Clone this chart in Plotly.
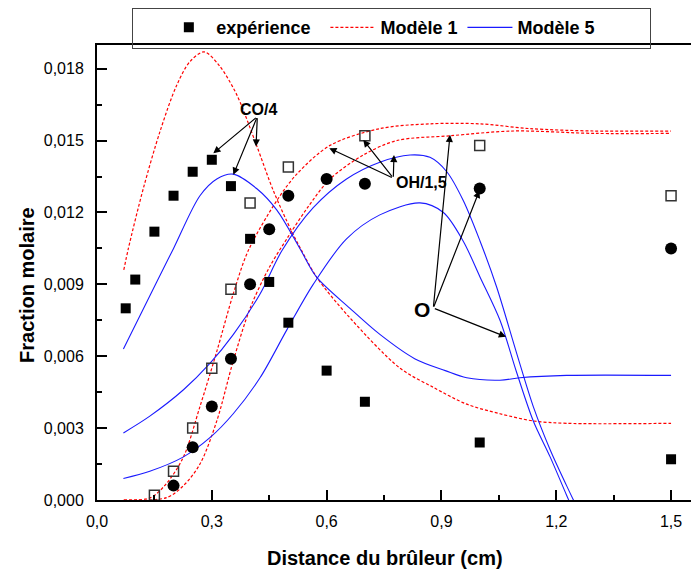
import plotly.graph_objects as go

# ---------------- experimental data ----------------
co_x = [0.075, 0.1, 0.15, 0.2, 0.25, 0.3, 0.35, 0.4, 0.45, 0.5, 0.6, 0.7, 1.0, 1.5]
co_y = [0.0080, 0.0092, 0.0112, 0.0127, 0.0137, 0.0142, 0.0131, 0.0109, 0.0091, 0.0074, 0.0054, 0.0041, 0.0024, 0.0017]

oh_x = [0.15, 0.2, 0.25, 0.3, 0.35, 0.4, 0.5, 0.7, 1.0, 1.5]
oh_y = [0.0002, 0.0012, 0.0030, 0.0055, 0.0088, 0.0124, 0.0139, 0.0152, 0.0148, 0.0127]

o_x = [0.2, 0.25, 0.3, 0.35, 0.4, 0.45, 0.5, 0.6, 0.7, 1.0, 1.5]
o_y = [0.0006, 0.0022, 0.0039, 0.0059, 0.0090, 0.0113, 0.0127, 0.0134, 0.0132, 0.0130, 0.0105]

# ---------------- Modèle 1 (red dashed) ----------------
m1_co_x = [0.07, 0.082, 0.121, 0.165, 0.208, 0.243, 0.28, 0.321, 0.356, 0.374, 0.417, 0.461, 0.509, 0.535,
           0.574, 0.661, 0.792, 0.879, 0.966, 1.053, 1.14, 1.227, 1.5]
m1_co_y = [0.0096, 0.0105, 0.0130, 0.0154, 0.0173, 0.0183, 0.0187, 0.0181, 0.0172, 0.0166, 0.0148, 0.0129,
           0.0112, 0.0104, 0.0093, 0.0076, 0.0055, 0.0047, 0.0040, 0.0036, 0.0033, 0.0032, 0.0032]

m1_oh_x = [0.07, 0.14, 0.182, 0.226, 0.269, 0.313, 0.356, 0.395, 0.47, 0.522, 0.609, 0.739, 0.87, 1.0,
           1.131, 1.3, 1.5]
m1_oh_y = [0.0000, 0.0001, 0.0007, 0.0018, 0.0039, 0.0062, 0.0086, 0.0104, 0.0125, 0.0136, 0.0148, 0.0155,
           0.0157, 0.0157, 0.0155, 0.0154, 0.0154]

m1_o_x = [0.07, 0.182, 0.226, 0.269, 0.313, 0.356, 0.40, 0.45, 0.50, 0.55, 0.609, 0.696, 0.783, 0.922,
          1.088, 1.3, 1.5]
m1_o_y = [0.0000, 0.0001, 0.0006, 0.0015, 0.0033, 0.0058, 0.0080, 0.0097, 0.0110, 0.0122, 0.0134, 0.0144,
          0.0150, 0.0152, 0.0154, 0.0153, 0.0153]

# ---------------- Modèle 5 (blue solid) ----------------
m5_co_x = [0.069, 0.156, 0.2, 0.269, 0.313, 0.356, 0.417, 0.47, 0.53, 0.574, 0.661, 0.74, 0.83, 0.91, 0.966,
           1.053, 1.105, 1.227, 1.5]
m5_co_y = [0.0063, 0.0091, 0.0105, 0.0127, 0.0134, 0.0136, 0.0130, 0.0121, 0.0105, 0.0093, 0.0080, 0.0069,
           0.0059, 0.0054, 0.0051, 0.0050, 0.0051, 0.0052, 0.0052]

m5_oh_x = [0.069, 0.138, 0.226, 0.295, 0.356, 0.426, 0.483, 0.565, 0.652, 0.739, 0.818, 0.87, 0.914, 0.957,
           1.001, 1.044, 1.097, 1.14, 1.184, 1.227, 1.26]
m5_oh_y = [0.0028, 0.0035, 0.0046, 0.0057, 0.0069, 0.0086, 0.0104, 0.0122, 0.0134, 0.0141, 0.0144, 0.0143,
           0.0137, 0.0125, 0.0108, 0.0089, 0.0061, 0.0039, 0.0021, 0.0006, -0.0005]

m5_o_x = [0.069, 0.138, 0.226, 0.295, 0.356, 0.426, 0.496, 0.565, 0.652, 0.739, 0.844, 0.905, 0.957, 1.001,
          1.053, 1.097, 1.14, 1.184, 1.227, 1.26]
m5_o_y = [0.0009, 0.0012, 0.0018, 0.0026, 0.0036, 0.0051, 0.0071, 0.0090, 0.0109, 0.0119, 0.0124, 0.0120,
          0.0108, 0.0093, 0.0075, 0.0053, 0.0033, 0.0018, 0.0002, -0.0010]

FONT = "Liberation Sans, Arial, sans-serif"
RED = "#ff0000"
BLUE = "#1a1aff"
NB = "\u00a0"

# page offset (body margin of the html page)
OFF = 8
W, H = 699 - OFF, 572 - OFF
L, R, T, B = 97 - OFF, 0, 43 - OFF, 72
pw, ph = W - L - R, H - T - B


def paper_x(px):
    return (px - OFF - L) / pw


def paper_y(py):
    return (H - B - (py - OFF)) / ph


fig = go.Figure()


def add_line(x, y, color, dash, name):
    fig.add_trace(go.Scatter(x=x, y=y, mode="lines", name=name, legendgroup=name, showlegend=False,
                             line=dict(color=color, width=1.2 if dash else 1.1, dash=dash,
                                       shape="spline", smoothing=0.9)))


add_line(m1_co_x, m1_co_y, RED, "3px,2px", "Modèle 1")
add_line(m1_oh_x, m1_oh_y, RED, "3px,2px", "Modèle 1")
add_line(m1_o_x, m1_o_y, RED, "3px,2px", "Modèle 1")
add_line(m5_co_x, m5_co_y, BLUE, None, "Modèle 5")
add_line(m5_oh_x, m5_oh_y, BLUE, None, "Modèle 5")
add_line(m5_o_x, m5_o_y, BLUE, None, "Modèle 5")

# experimental points
fig.add_trace(go.Scatter(x=co_x, y=co_y, mode="markers", name="expérience" + NB * 2, showlegend=True,
                         marker=dict(symbol="square", size=10, color="black")))
fig.add_trace(go.Scatter(x=oh_x, y=oh_y, mode="markers", name="OH", showlegend=False,
                         marker=dict(symbol="square-open", size=10, color="#333333", line=dict(width=1.5))))
fig.add_trace(go.Scatter(x=o_x, y=o_y, mode="markers", name="O", showlegend=False,
                         marker=dict(symbol="circle", size=12, color="black")))

# legend-only entries for the models
fig.add_trace(go.Scatter(x=[None], y=[None], mode="lines", name="Modèle 1", legendgroup="Modèle 1",
                         line=dict(color=RED, width=1.2, dash="3px,2px")))
fig.add_trace(go.Scatter(x=[None], y=[None], mode="lines", name="Modèle 5" + NB * 10, legendgroup="Modèle 5",
                         line=dict(color=BLUE, width=1.1)))

annotations = []
# text labels
annotations.append(dict(x=0.4207, y=0.0163, xref="x", yref="y", text="<b>CO/4</b>", showarrow=False,
                        font=dict(family=FONT, size=16, color="black")))
annotations.append(dict(x=0.8466, y=0.01325, xref="x", yref="y", text="<b>OH/1,5</b>", showarrow=False,
                        font=dict(family=FONT, size=16, color="black")))
annotations.append(dict(x=0.8484, y=0.00797, xref="x", yref="y", text="<b>O</b>", showarrow=False,
                        font=dict(family=FONT, size=21, color="black")))

# arrows (tail -> tip)
arrow_tails = [(0.4189, 0.0160)] * 3 + [(0.7742, 0.01343)] * 3 + [(0.8788, 0.00801)] * 3
arrow_tips = [(0.3039, 0.01447), (0.3562, 0.01357), (0.4155, 0.01475),
              (0.607, 0.01468), (0.6958, 0.01503), (0.776, 0.0144),
              (0.9224, 0.01524), (0.999, 0.01291), (1.0687, 0.00681)]
for (tx, ty), (hx, hy) in zip(arrow_tails, arrow_tips):
    annotations.append(dict(x=hx, y=hy, ax=tx, ay=ty, xref="x", yref="y", axref="x", ayref="y",
                            text="", showarrow=True, arrowhead=2, arrowsize=1.2, arrowwidth=1.2,
                            arrowcolor="black", standoff=0, startstandoff=0))

# axis titles
annotations.append(dict(x=paper_x(385), y=paper_y(558), xref="paper", yref="paper",
                        xanchor="center", yanchor="middle", text="<b>Distance du brûleur (cm)</b>",
                        showarrow=False, font=dict(family=FONT, size=20, color="black")))
annotations.append(dict(x=paper_x(27), y=paper_y(284), xref="paper", yref="paper",
                        xanchor="center", yanchor="middle", text="<b>Fraction molaire</b>",
                        textangle=-90, showarrow=False, font=dict(family=FONT, size=20, color="black")))

fig.update_layout(
    width=W, height=H,
    margin=dict(l=L, r=R, t=T, b=B),
    plot_bgcolor="white", paper_bgcolor="white",
    separators=", ",
    font=dict(family=FONT, size=16, color="black"),
    annotations=annotations,
    legend=dict(orientation="h", x=paper_x(132), y=paper_y(6), xanchor="left", yanchor="top",
                bordercolor="#444444", borderwidth=1, bgcolor="rgba(0,0,0,0)",
                font=dict(family=FONT, size=18, color="black", weight="bold"),
                title=dict(text=NB * 3, side="left"),
                traceorder="normal", itemwidth=45),
    xaxis=dict(range=[0, 1.573], dtick=0.3, tick0=0, tickformat=".1f", ticks="inside", ticklen=10,
               tickwidth=1.5, tickcolor="black", showline=True, linecolor="black", linewidth=2,
               mirror=True, showgrid=False, zeroline=False, ticklabelstandoff=6, automargin=False,
               tickfont=dict(family=FONT, size=16, color="black"),
               minor=dict(dtick=0.15, tick0=0, ticks="inside", ticklen=5, tickwidth=1.5, tickcolor="black")),
    yaxis=dict(range=[0, 0.01899], dtick=0.003, tick0=0, tickformat=".3f", ticks="inside", ticklen=10,
               tickwidth=1.5, tickcolor="black", showline=True, linecolor="black", linewidth=2,
               mirror=False, showgrid=False, zeroline=False, ticklabelstandoff=8, automargin=False,
               tickfont=dict(family=FONT, size=16, color="black"),
               minor=dict(dtick=0.0015, tick0=0, ticks="inside", ticklen=5, tickwidth=1.5, tickcolor="black")),
)

fig.write_html("out.html")
